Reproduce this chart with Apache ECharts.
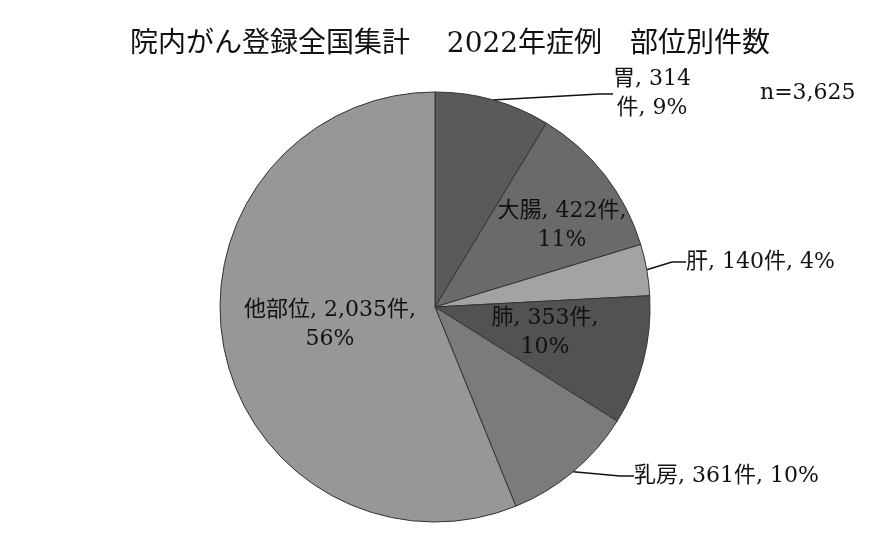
<!DOCTYPE html>
<html><head><meta charset="utf-8">
<script src="https://cdn.jsdelivr.net/npm/echarts@6/dist/echarts.min.js"></script>
<style>html,body{margin:0;padding:0;background:#fff}#c{width:890px;height:540px}</style>
</head><body><div id="c"></div>
<script>
const categories = ['胃','大腸','肝','肺','乳房','他部位'];
const counts = [314, 422, 140, 353, 361, 2035];
const pctLabels = ['9%','11%','4%','10%','10%','56%'];
const countLabels = ['314','422','140','353','361','2,035'];
const colors = ['#5a5a5a','#6a6a6a','#a3a3a3','#525252','#7b7b7b','#979797'];
const totalLabel = 'n=3,625';
const titleText = '院内がん登録全国集計　 2022年症例　部位別件数';

const FONT = '"DejaVu Serif","Noto Sans CJK JP",serif';
const labelText = [
  `${categories[0]}, ${countLabels[0]}\n件, ${pctLabels[0]}`,
  `${categories[1]}, ${countLabels[1]}件,\n${pctLabels[1]}`,
  `${categories[2]}, ${countLabels[2]}件, ${pctLabels[2]}`,
  `${categories[3]}, ${countLabels[3]}件,\n${pctLabels[3]}`,
  `${categories[4]}, ${countLabels[4]}件, ${pctLabels[4]}`,
  `${categories[5]}, ${countLabels[5]}件,\n${pctLabels[5]}`
];
const inside = [false, true, false, true, false, true];
const layoutPos = [
  {x: 652, y: 94, align: 'center'},
  {x: 562, y: 226, align: 'center'},
  {x: 686, y: 262, align: 'left'},
  {x: 545, y: 333, align: 'center'},
  {x: 634, y: 476, align: 'left'},
  {x: 330, y: 325, align: 'center'}
];

const data = categories.map((n, i) => ({
  name: n, value: counts[i],
  itemStyle: {color: colors[i]},
  label: {position: inside[i] ? 'inside' : 'outside', formatter: labelText[i]},
  labelLine: {show: !inside[i]}
}));

const chart = echarts.init(document.getElementById('c'));
chart.setOption({
  animation: false,
  title: {text: titleText, left: 445, top: 26, textAlign: 'center',
    textStyle: {fontFamily: FONT, fontSize: 28, fontWeight: 'normal', color: '#111'}},
  graphic: [{type: 'text', left: 760, top: 82,
    style: {text: totalLabel, font: '22px ' + FONT, fill: '#111'}}],
  series: [{
    type: 'pie', center: [435, 307], radius: 215, startAngle: 90, clockwise: true,
    data: data,
    itemStyle: {borderColor: '#333', borderWidth: 1},
    label: {fontFamily: FONT, fontSize: 22, color: '#111', lineHeight: 29},
    labelLine: {lineStyle: {color: '#111', width: 1.5}, length: 30, length2: 14},
    emphasis: {disabled: true},
    labelLayout: function (p) {
      const pos = layoutPos[p.dataIndex];
      return {x: pos.x, y: pos.y, align: pos.align, verticalAlign: 'middle'};
    }
  }]
});
</script></body></html>
